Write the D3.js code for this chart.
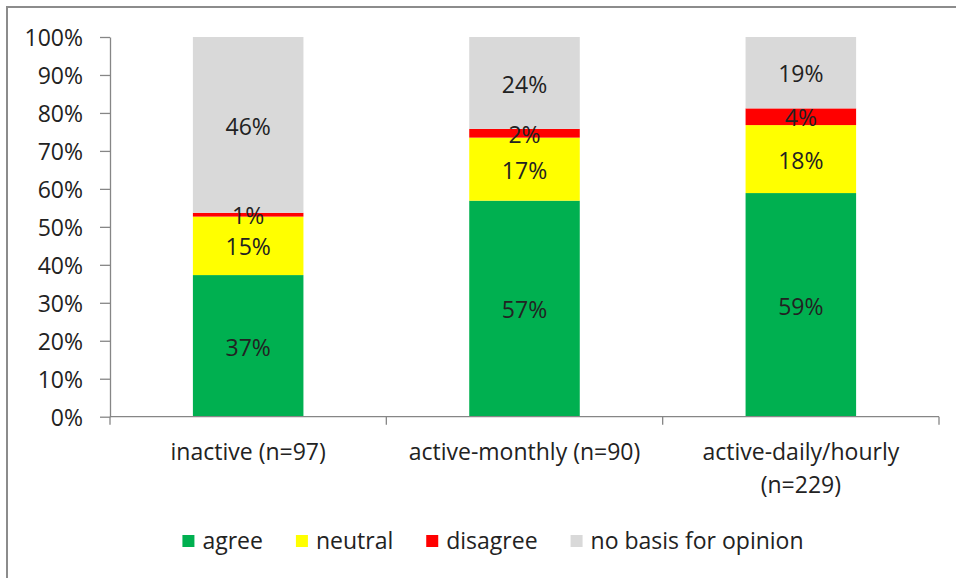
<!DOCTYPE html>
<html>
<head>
<meta charset="utf-8">
<script src="https://cdn.jsdelivr.net/npm/d3@7"></script>
<style>
  html, body { margin: 0; padding: 0; background: #fff; }
  svg { display: block; }
  text { font-family: "Open Sans", sans-serif; fill: #222; }
</style>
</head>
<body>
<svg id="chart" width="956" height="578"></svg>
<script>
// ---- data ----
const categories = ["inactive (n=97)", "active-monthly (n=90)", "active-daily/hourly (n=229)"];
const seriesNames = ["agree", "neutral", "disagree", "no basis for opinion"];
const agree    = [37.3, 56.9, 58.9];
const neutral  = [15.4, 16.6, 17.9];
const disagree = [1.0, 2.3, 4.4];
const noBasis  = [46.3, 24.2, 18.8];
const yTicks = [0, 10, 20, 30, 40, 50, 60, 70, 80, 90, 100];
const colors = ["#00B050", "#FFFF00", "#FF0000", "#D9D9D9"];

const seriesValues = [agree, neutral, disagree, noBasis];
const table = categories.map((c, i) => {
  const row = { category: c };
  seriesNames.forEach((s, j) => row[s] = seriesValues[j][i]);
  return row;
});

// ---- layout ----
const svg = d3.select("#chart");
const plot = { left: 110, right: 939, top: 37, bottom: 416.7 };
const fontSize = 23;
const fontFam = "'Open Sans', sans-serif";

// chart border (only top/left visible in frame)
svg.append("rect")
  .attr("x", 7).attr("y", 7)
  .attr("width", 1100).attr("height", 800)
  .attr("fill", "none").attr("stroke", "#8c8c8c").attr("stroke-width", 2);

const x = d3.scaleBand().domain(categories).range([plot.left, plot.right])
  .paddingInner(0.6).paddingOuter(0.3);
const y = d3.scaleLinear().domain([0, 100]).range([plot.bottom, plot.top]);

const stack = d3.stack().keys(seriesNames)(table);

// bars
const g = svg.append("g");
stack.forEach((layer, j) => {
  g.selectAll(null).data(layer).enter().append("rect")
    .attr("x", d => x(d.data.category))
    .attr("width", x.bandwidth())
    .attr("y", d => y(d[1]))
    .attr("height", d => y(d[0]) - y(d[1]))
    .attr("fill", colors[j]);
});

// data labels
const fmt = v => d3.format(".0f")(v) + "%";
stack.forEach((layer, j) => {
  g.selectAll(null).data(layer).enter().append("text")
    .attr("x", d => x(d.data.category) + x.bandwidth() / 2)
    .attr("y", d => (y(d[0]) + y(d[1])) / 2)
    .attr("dy", "0.42em")
    .attr("text-anchor", "middle")
    .style("font-size", fontSize + "px")
    .text(d => fmt(d[1] - d[0]));
});

// y axis
const yAxis = d3.axisLeft(y).tickValues(yTicks).tickFormat(d => d + "%").tickSize(10).tickSizeOuter(0).tickPadding(17);
const ya = svg.append("g").attr("transform", `translate(${plot.left},0)`).call(yAxis);
ya.select(".domain").attr("stroke", "#868686").attr("stroke-width", 1.3);
ya.selectAll(".tick line").attr("stroke", "#868686").attr("stroke-width", 1.3);
ya.selectAll(".tick text").style("font-size", fontSize + "px").style("font-family", fontFam).attr("fill", "#222").attr("dy", "0.38em");

// x axis line with boundary ticks
const step = x.step();
const xa = svg.append("g");
xa.append("line").attr("x1", plot.left).attr("x2", plot.right)
  .attr("y1", plot.bottom).attr("y2", plot.bottom)
  .attr("stroke", "#868686").attr("stroke-width", 1.3);
xa.selectAll(null).data(d3.range(categories.length + 1)).enter().append("line")
  .attr("x1", i => plot.left + i * step).attr("x2", i => plot.left + i * step)
  .attr("y1", plot.bottom).attr("y2", plot.bottom + 8)
  .attr("stroke", "#868686").attr("stroke-width", 1.3);

// category labels with wrapping
categories.forEach(c => {
  const t = xa.append("text")
    .attr("text-anchor", "middle")
    .style("font-size", fontSize + "px")
    .attr("x", x(c) + x.bandwidth() / 2)
    .attr("y", 452).attr("dy", "0.35em").text(c);
  if (t.node().getComputedTextLength() > step * 0.95) {
    const words = c.split(" ");
    const last = words.pop();
    t.text(words.join(" "));
    xa.append("text").attr("text-anchor", "middle")
      .style("font-size", fontSize + "px")
      .attr("x", x(c) + x.bandwidth() / 2)
      .attr("y", 485).attr("dy", "0.35em").text(last);
  }
});

// legend
const legend = svg.append("g");
const sw = 12, swGap = 8, itemGap = 33, legY = 541, legCenter = 493;
const items = [];
let cx = 0;
seriesNames.forEach((s, j) => {
  const it = legend.append("g");
  it.append("rect").attr("x", 0).attr("y", -sw / 2).attr("width", sw).attr("height", sw).attr("fill", colors[j]);
  const tx = it.append("text").attr("x", sw + swGap).attr("dy", "0.35em")
    .style("font-size", fontSize + "px").text(s);
  const w = sw + swGap + tx.node().getComputedTextLength();
  items.push({ it, off: cx });
  cx += w + itemGap;
});
const total = cx - itemGap;
const start = legCenter - total / 2;
items.forEach(d => d.it.attr("transform", `translate(${start + d.off},${legY})`));
</script>
</body>
</html>
